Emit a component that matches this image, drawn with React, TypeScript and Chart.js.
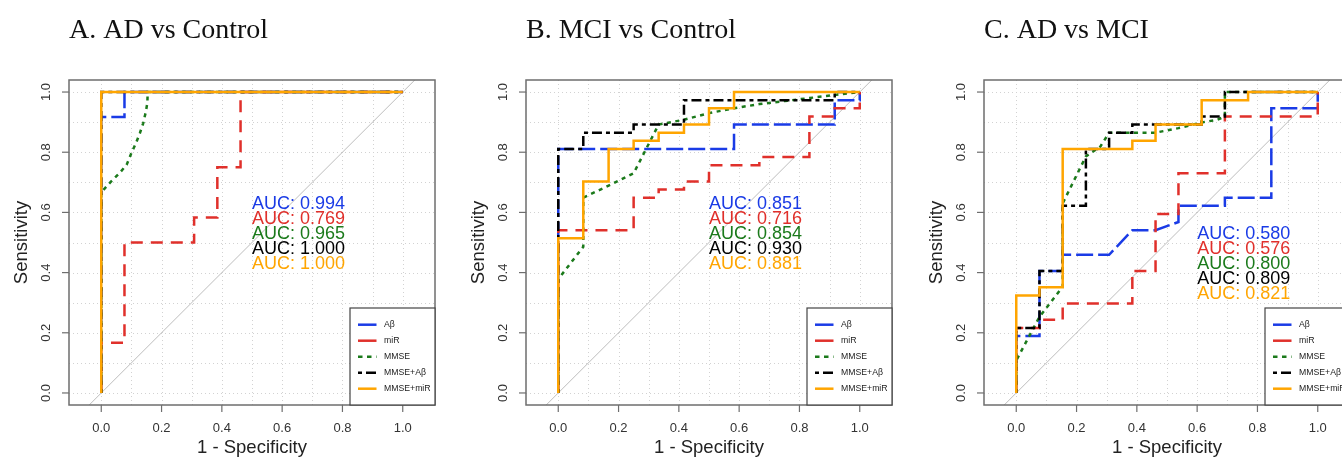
import React, { useEffect, useRef } from "react";
import { Chart, registerables } from "chart.js";

Chart.register(...registerables);

type Pt = [number, number];

// ---------- labels / ticks ----------
const seriesLabels = ["Aβ", "miR", "MMSE", "MMSE+Aβ", "MMSE+miR"];
const panelTitles = ["A. AD vs Control", "B. MCI vs Control", "C. AD vs MCI"];
const axisTickValues = [0, 0.2, 0.4, 0.6, 0.8, 1.0];
const axisTickLabels = ["0.0", "0.2", "0.4", "0.6", "0.8", "1.0"];
const gridValues = [0, 0.1, 0.2, 0.3, 0.4, 0.5, 0.6, 0.7, 0.8, 0.9, 1.0];
const xAxisTitle = "1 - Specificity";
const yAxisTitle = "Sensitivity";

// ---------- Panel A: AD vs Control (x = 1 - specificity, y = sensitivity) ----------
const rocA_Abeta: Pt[] = [[0, 0], [0, 0.917], [0.077, 0.917], [0.077, 1], [1, 1]];
const rocA_miR: Pt[] = [
  [0, 0], [0, 0.167], [0.077, 0.167], [0.077, 0.5], [0.308, 0.5], [0.308, 0.583],
  [0.385, 0.583], [0.385, 0.75], [0.462, 0.75], [0.462, 1], [1, 1],
];
const rocA_MMSE: Pt[] = [
  [0, 0], [0, 0.667], [0.03, 0.7], [0.06, 0.73], [0.084, 0.758], [0.1, 0.797],
  [0.115, 0.83], [0.128, 0.863], [0.139, 0.896], [0.148, 0.935], [0.153, 0.965],
  [0.154, 1], [1, 1],
];
const rocA_MMSE_Abeta: Pt[] = [[0, 0], [0, 1], [1, 1]];
const rocA_MMSE_miR: Pt[] = [[0, 0], [0, 1], [1, 1]];
const aucA = ["0.994", "0.769", "0.965", "1.000", "1.000"];

// ---------- Panel B: MCI vs Control ----------
const rocB_Abeta: Pt[] = [
  [0, 0], [0, 0.811], [0.583, 0.811], [0.583, 0.892], [0.917, 0.892], [0.917, 0.973],
  [1, 0.973], [1, 1],
];
const rocB_miR: Pt[] = [
  [0, 0], [0, 0.541], [0.25, 0.541], [0.25, 0.649], [0.333, 0.649], [0.333, 0.676],
  [0.417, 0.676], [0.417, 0.703], [0.5, 0.703], [0.5, 0.757], [0.667, 0.757],
  [0.667, 0.784], [0.833, 0.784], [0.833, 0.919], [0.917, 0.919], [0.917, 0.946],
  [1, 0.946], [1, 1],
];
const rocB_MMSE: Pt[] = [
  [0, 0], [0, 0.378], [0.083, 0.486], [0.083, 0.649], [0.167, 0.689], [0.25, 0.73],
  [0.333, 0.892], [0.417, 0.908], [0.5, 0.93], [0.583, 0.946], [0.667, 0.96],
  [0.75, 0.97], [0.833, 0.98], [0.917, 0.99], [1, 1],
];
const rocB_MMSE_Abeta: Pt[] = [
  [0, 0], [0, 0.811], [0.083, 0.811], [0.083, 0.865], [0.25, 0.865], [0.25, 0.892],
  [0.417, 0.892], [0.417, 0.973], [0.917, 0.973], [0.917, 1], [1, 1],
];
const rocB_MMSE_miR: Pt[] = [
  [0, 0], [0, 0.514], [0.083, 0.514], [0.083, 0.703], [0.167, 0.703], [0.167, 0.811],
  [0.25, 0.811], [0.25, 0.838], [0.333, 0.838], [0.333, 0.865], [0.417, 0.865],
  [0.417, 0.892], [0.5, 0.892], [0.5, 0.946], [0.583, 0.946], [0.583, 1], [1, 1],
];
const aucB = ["0.851", "0.716", "0.854", "0.930", "0.881"];

// ---------- Panel C: AD vs MCI ----------
const rocC_Abeta: Pt[] = [
  [0, 0], [0, 0.189], [0.077, 0.189], [0.077, 0.405], [0.154, 0.405], [0.154, 0.459],
  [0.308, 0.459], [0.385, 0.541], [0.462, 0.541], [0.538, 0.568], [0.538, 0.622],
  [0.692, 0.622], [0.692, 0.649], [0.846, 0.649], [0.846, 0.946], [1, 0.946], [1, 1],
];
const rocC_miR: Pt[] = [
  [0, 0], [0, 0.216], [0.077, 0.216], [0.077, 0.243], [0.154, 0.243], [0.154, 0.297],
  [0.385, 0.297], [0.385, 0.405], [0.462, 0.405], [0.462, 0.595], [0.538, 0.595],
  [0.538, 0.73], [0.692, 0.73], [0.692, 0.919], [1, 0.919], [1, 1],
];
const rocC_MMSE: Pt[] = [
  [0, 0], [0, 0.108], [0.077, 0.253], [0.154, 0.353], [0.154, 0.63], [0.231, 0.786],
  [0.279, 0.819], [0.308, 0.865], [0.462, 0.865], [0.538, 0.88], [0.615, 0.899],
  [0.667, 0.908], [0.692, 0.919], [0.692, 1], [1, 1],
];
const rocC_MMSE_Abeta: Pt[] = [
  [0, 0], [0, 0.216], [0.077, 0.216], [0.077, 0.405], [0.154, 0.405], [0.154, 0.622],
  [0.231, 0.622], [0.231, 0.811], [0.308, 0.811], [0.308, 0.865], [0.385, 0.865],
  [0.385, 0.892], [0.615, 0.892], [0.615, 0.919], [0.692, 0.919], [0.692, 1], [1, 1],
];
const rocC_MMSE_miR: Pt[] = [
  [0, 0], [0, 0.324], [0.077, 0.324], [0.077, 0.351], [0.154, 0.351], [0.154, 0.811],
  [0.385, 0.811], [0.385, 0.838], [0.462, 0.838], [0.462, 0.892], [0.615, 0.892],
  [0.615, 0.973], [0.769, 0.973], [0.769, 1], [1, 1],
];
const aucC = ["0.580", "0.576", "0.800", "0.809", "0.821"];

const diagonal: Pt[] = [[-0.3, -0.3], [1.3, 1.3]];

// ---------- styles ----------
const COLORS = ["#1a3be6", "#e0302b", "#1b7a1b", "#000000", "#ffa500"];
const DASHES: number[][] = [[17, 5], [12, 8], [4, 4.5], [4, 4, 10, 4], []];
const LEGEND_DASHES: number[][] = [[], [], [4.5, 4.5], [4, 4, 10, 4], []];
const SANS = '"Liberation Sans", Arial, Helvetica, sans-serif';
const SERIF = '"Liberation Serif", "Times New Roman", serif';

const PANEL_W = 457;
const PANEL_H = 458;
const PANEL_LEFTS = [0, 457, 915];

type PanelCfg = {
  title: string;
  series: Pt[][];
  auc: string[];
  aucX: number;
  aucY: number;
};

const panels: PanelCfg[] = [
  {
    title: panelTitles[0],
    series: [rocA_Abeta, rocA_miR, rocA_MMSE, rocA_MMSE_Abeta, rocA_MMSE_miR],
    auc: aucA,
    aucX: 0.5,
    aucY: 0.627,
  },
  {
    title: panelTitles[1],
    series: [rocB_Abeta, rocB_miR, rocB_MMSE, rocB_MMSE_Abeta, rocB_MMSE_miR],
    auc: aucB,
    aucX: 0.5,
    aucY: 0.627,
  },
  {
    title: panelTitles[2],
    series: [rocC_Abeta, rocC_miR, rocC_MMSE, rocC_MMSE_Abeta, rocC_MMSE_miR],
    auc: aucC,
    aucX: 0.6,
    aucY: 0.528,
  },
];

function RocPanel({ cfg, left }: { cfg: PanelCfg; left: number }) {
  const ref = useRef<HTMLCanvasElement>(null);

  useEffect(() => {
    const canvas = ref.current;
    if (!canvas) return;

    const decor = {
      id: "rocDecor",
      beforeDatasetsDraw(chart: any) {
        const { ctx, chartArea: ca } = chart;
        const xs = chart.scales.x;
        const ys = chart.scales.y;
        ctx.save();
        ctx.strokeStyle = "#d2d2d2";
        ctx.lineWidth = 1;
        ctx.setLineDash([1, 3]);
        for (const v of gridValues) {
          const px = Math.round(xs.getPixelForValue(v)) + 0.5;
          ctx.beginPath();
          ctx.moveTo(px, ca.top);
          ctx.lineTo(px, ca.bottom);
          ctx.stroke();
          const py = Math.round(ys.getPixelForValue(v)) + 0.5;
          ctx.beginPath();
          ctx.moveTo(ca.left, py);
          ctx.lineTo(ca.right, py);
          ctx.stroke();
        }
        ctx.restore();
      },
      afterDatasetsDraw(chart: any) {
        const { ctx, chartArea: ca } = chart;
        const xs = chart.scales.x;
        const ys = chart.scales.y;
        ctx.save();
        ctx.setLineDash([]);

        // AUC labels
        ctx.font = `18px ${SANS}`;
        ctx.textAlign = "left";
        ctx.textBaseline = "middle";
        cfg.auc.forEach((a, i) => {
          ctx.fillStyle = COLORS[i];
          ctx.fillText(
            `AUC: ${a}`,
            xs.getPixelForValue(cfg.aucX),
            ys.getPixelForValue(cfg.aucY - i * 0.05)
          );
        });

        // box
        ctx.strokeStyle = "#6e6e6e";
        ctx.lineWidth = 1.5;
        ctx.strokeRect(ca.left, ca.top, ca.right - ca.left, ca.bottom - ca.top);

        // ticks
        ctx.lineWidth = 1.2;
        for (const v of axisTickValues) {
          const px = xs.getPixelForValue(v);
          ctx.beginPath();
          ctx.moveTo(px, ca.bottom);
          ctx.lineTo(px, ca.bottom + 7);
          ctx.stroke();
          const py = ys.getPixelForValue(v);
          ctx.beginPath();
          ctx.moveTo(ca.left - 7, py);
          ctx.lineTo(ca.left, py);
          ctx.stroke();
        }

        // tick labels
        ctx.fillStyle = "#333333";
        ctx.font = `13px ${SANS}`;
        ctx.textAlign = "center";
        ctx.textBaseline = "middle";
        axisTickValues.forEach((v, i) => {
          ctx.fillText(axisTickLabels[i], xs.getPixelForValue(v), ca.bottom + 23.5);
          ctx.save();
          ctx.translate(ca.left - 22.6, ys.getPixelForValue(v));
          ctx.rotate(-Math.PI / 2);
          ctx.fillText(axisTickLabels[i], 0, 0);
          ctx.restore();
        });

        // axis titles
        ctx.fillStyle = "#222222";
        ctx.font = `18.5px ${SANS}`;
        ctx.textAlign = "center";
        ctx.textBaseline = "alphabetic";
        ctx.fillText(xAxisTitle, (ca.left + ca.right) / 2, ca.bottom + 48);
        ctx.save();
        ctx.translate(ca.left - 47.3, (ca.top + ca.bottom) / 2);
        ctx.rotate(-Math.PI / 2);
        ctx.textBaseline = "middle";
        ctx.fillText(yAxisTitle, 0, 0);
        ctx.restore();

        // panel title
        ctx.fillStyle = "#111111";
        ctx.font = `28px ${SERIF}`;
        ctx.textAlign = "left";
        ctx.textBaseline = "alphabetic";
        ctx.fillText(cfg.title, ca.left, 37.7);

        // legend (bottom right)
        const lw = 85;
        const lh = 97;
        const lx = ca.right - lw;
        const ly = ca.bottom - lh;
        ctx.fillStyle = "#ffffff";
        ctx.fillRect(lx, ly, lw, lh);
        ctx.strokeStyle = "#444444";
        ctx.lineWidth = 1.2;
        ctx.strokeRect(lx, ly, lw, lh);
        ctx.font = `8.7px ${SANS}`;
        ctx.textAlign = "left";
        ctx.textBaseline = "middle";
        seriesLabels.forEach((lab, i) => {
          const ry = ly + 16.7 + i * 16;
          ctx.strokeStyle = COLORS[i];
          ctx.lineWidth = 2.5;
          ctx.lineCap = "butt";
          ctx.setLineDash(LEGEND_DASHES[i]);
          ctx.beginPath();
          ctx.moveTo(lx + 8, ry);
          ctx.lineTo(lx + 26.5, ry);
          ctx.stroke();
          ctx.setLineDash([]);
          ctx.fillStyle = "#222222";
          ctx.fillText(lab, lx + 34, ry);
        });

        ctx.restore();
      },
    };

    const datasets: any[] = [
      {
        label: "identity",
        data: diagonal.map(([x, y]) => ({ x, y })),
        borderColor: "#bdbdbd",
        borderWidth: 1,
        showLine: true,
        pointRadius: 0,
        fill: false,
        order: 20,
      },
      ...cfg.series.map((pts, i) => ({
        label: seriesLabels[i],
        data: pts.map(([x, y]) => ({ x, y })),
        borderColor: COLORS[i],
        backgroundColor: COLORS[i],
        borderWidth: 2.5,
        borderDash: DASHES[i],
        borderCapStyle: "butt",
        borderJoinStyle: "miter",
        showLine: true,
        pointRadius: 0,
        pointHoverRadius: 0,
        fill: false,
        tension: 0,
        order: 10 - i,
      })),
    ];

    const chart = new Chart(canvas, {
      type: "scatter",
      data: { datasets },
      options: {
        animation: false,
        responsive: false,
        maintainAspectRatio: false,
        devicePixelRatio: 1,
        events: [],
        layout: { padding: { left: 69, top: 80, right: 22, bottom: 53 } },
        plugins: {
          legend: { display: false },
          tooltip: { enabled: false },
          title: { display: false },
        },
        scales: {
          x: { type: "linear", display: false, min: -0.107, max: 1.107 },
          y: { type: "linear", display: false, min: -0.04, max: 1.04 },
        },
      } as any,
      plugins: [decor as any],
    });

    return () => chart.destroy();
  }, [cfg]);

  return (
    <canvas
      ref={ref}
      width={PANEL_W}
      height={PANEL_H}
      style={{ position: "absolute", left, top: 0, width: PANEL_W, height: PANEL_H }}
    />
  );
}

export default function App() {
  return (
    <div
      style={{
        position: "fixed",
        left: 0,
        top: 0,
        width: 1342,
        height: 458,
        overflow: "hidden",
        background: "#ffffff",
      }}
    >
      {panels.map((p, i) => (
        <RocPanel key={i} cfg={p} left={PANEL_LEFTS[i]} />
      ))}
    </div>
  );
}
